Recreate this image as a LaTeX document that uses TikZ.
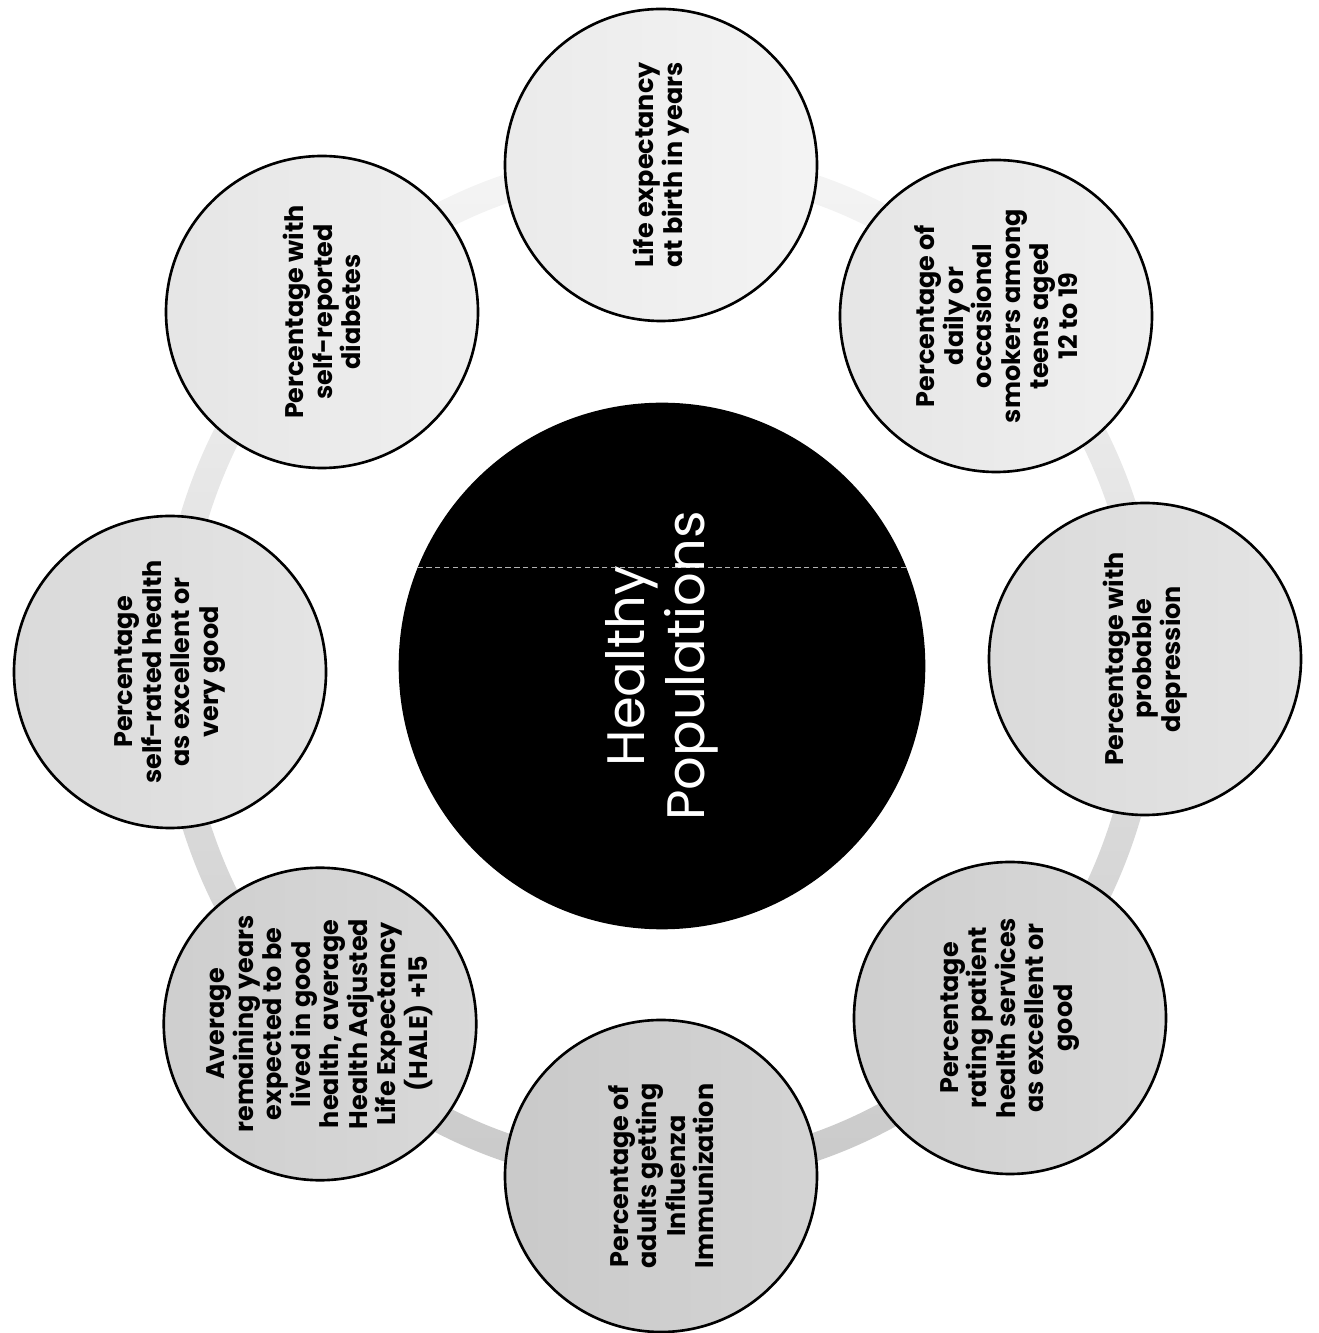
\documentclass[tikz,border=0pt]{standalone}
\usepackage{fontspec}
\setmainfont{Poppins}
\usepackage{tikz}

\tikzset{
  sat/.style={circle, draw=black, line width=1.5pt, minimum size=6.24cm,
    inner sep=0pt, align=center, rotate=90, text=black,
    font=\fontsize{14.5}{16.2}\selectfont\bfseries},
  %% node is turned by 90 degrees: its left side is the bottom of the page
  tone/.style 2 args={left color=gray!#1, right color=gray!#2},
  hub/.style={circle, draw=black, line width=1.5pt, fill=black, minimum size=10.48cm,
    inner sep=0pt, align=center, rotate=90, text=white,
    font=\fontsize{30}{34}\selectfont}
}

\begin{document}
\begin{tikzpicture}
  \useasboundingbox (0,0) rectangle (26.38,26.66);
  %% ring joining the outer circles
  \shade[top color=gray!8, bottom color=gray!42, even odd rule]
    (13.20,13.30) ellipse [x radius=10.04, y radius=10.38]
    (13.20,13.30) ellipse [x radius=9.48, y radius=9.82];
  %% centre
  \node[hub] (healthy) at (13.24,13.34) {Healthy\\Populations};
  \draw[gray!60, densely dashed, line width=0.5pt] (healthy.-68) -- (healthy.68);
  %% outer circles, clockwise from the top
  \node[sat, tone={16}{9}]  (lifeexp) at (13.22,23.36) {Life expectancy\\at birth in years};
  \node[sat, tone={20}{12}] (smokers) at (19.92,20.34) {Percentage of\\daily or\\occasional\\smokers among\\teens aged\\12 to 19};
  \node[sat, tone={29}{21}] (depression) at (22.90,13.48) {Percentage with\\probable\\depression};
  \node[sat, tone={38}{30}] (services) at (20.20,6.30) {Percentage\\rating patient\\health services\\as excellent or\\good};
  \node[sat, tone={42}{34}] (influenza) at (13.22,3.14) {Percentage of\\adults getting\\Influenza\\Immunization};
  \node[sat, tone={38}{30}] (hale) at (6.40,6.18) {Average\\remaining years\\expected to be\\lived in good\\health, average\\Health Adjusted\\Life Expectancy\\(HALE) +15};
  \node[sat, tone={29}{21}] (selfrated) at (3.40,13.22) {Percentage\\self-rated health\\as excellent or\\very good};
  \node[sat, tone={20}{12}] (diabetes) at (6.44,20.42) {Percentage with\\self-reported\\diabetes};
\end{tikzpicture}
\end{document}
